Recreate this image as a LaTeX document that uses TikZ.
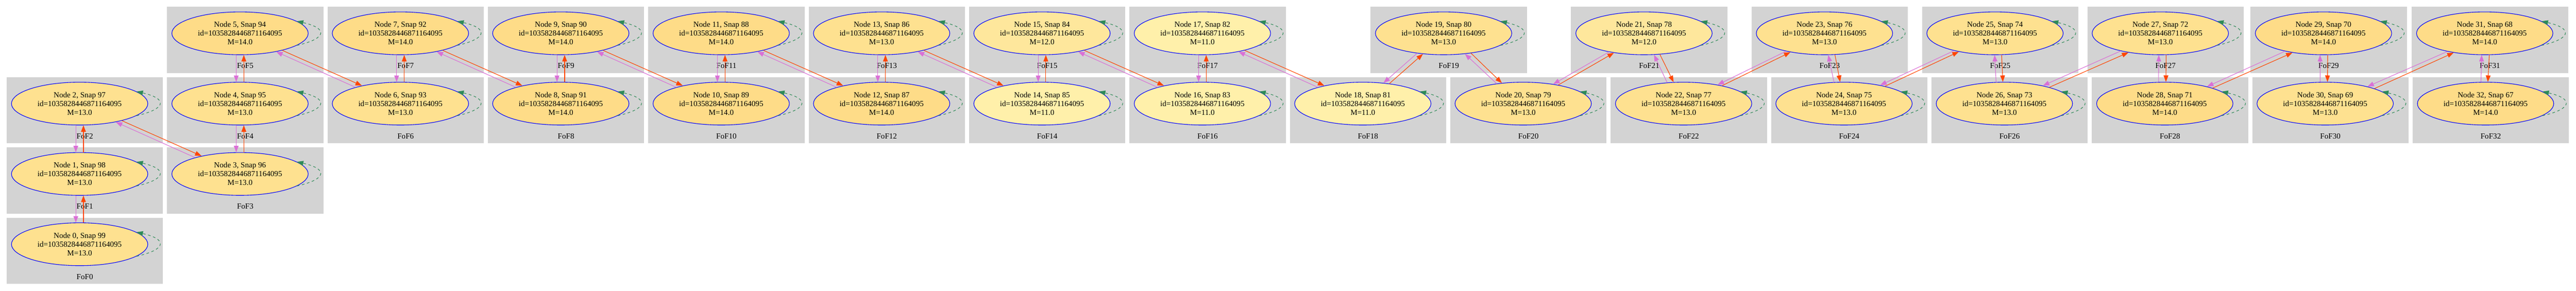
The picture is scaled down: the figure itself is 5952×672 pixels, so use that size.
\documentclass[tikz,border=0pt]{standalone}
\usepackage{fontspec}
\setmainfont{Liberation Serif}
\usetikzlibrary{shapes.geometric, arrows.meta}
\definecolor{boxgray}{HTML}{D3D3D3}
\definecolor{orangered}{HTML}{FF4500}
\definecolor{orchid}{HTML}{DA70D6}
\definecolor{seagreen}{HTML}{2E8B57}
\definecolor{m11}{HTML}{FFF0AA}
\definecolor{m12}{HTML}{FEE79C}
\definecolor{m13}{HTML}{FEE190}
\definecolor{m14}{HTML}{FEDC88}
\newcommand{\fofsize}{\fontsize{9}{10.1}\selectfont}
\tikzstyle{fofbox} = [rectangle, minimum width=180.5pt, minimum height=76.5pt, inner sep=0pt, fill=boxgray]
\tikzstyle{fofname} = [inner sep=0pt, font=\fofsize]
\tikzstyle{halo} = [ellipse, minimum width=157.5pt, minimum height=49.5pt, inner sep=0pt, align=center, draw=blue, line width=0.65pt, font=\fofsize]
\tikzstyle{prog} = [line width=0.65pt, draw=orangered, -{Triangle[length=7.5pt, width=5.5pt, fill=orangered]}]
\tikzstyle{desc} = [line width=0.65pt, draw=orchid, -{Triangle[length=7.5pt, width=5.5pt, fill=orchid]}]
\tikzstyle{selfloop} = [line width=0.65pt, draw=seagreen, dash pattern=on 3pt off 3pt, -{Triangle[length=7.5pt, width=5.5pt, fill=seagreen]}]
\begin{document}
\begin{tikzpicture}[x=0.5pt, y=-0.5pt]
    \useasboundingbox (0,0) rectangle (5952,672);
    \foreach \n/\x/\y/\m in {0/184/564.5/13, 1/184/402/13, 2/184/239.5/13, 3/554.6/402/13,
        4/554.6/239.5/13, 5/554.6/77/14, 6/925.2/239.5/13, 7/925.2/77/14, 8/1295.8/239.5/14,
        9/1295.8/77/14, 10/1666.4/239.5/14, 11/1666.4/77/14, 12/2037/239.5/14, 13/2037/77/13,
        14/2407.6/239.5/11, 15/2407.6/77/12, 16/2778.2/239.5/11, 17/2778.2/77/11,
        18/3148.8/239.5/11, 19/3335.5/77/13, 20/3519.4/239.5/13, 21/3798.5/77/12,
        22/3890/239.5/13, 23/4215.5/77/13, 24/4260.6/239.5/13, 25/4609.5/77/13,
        26/4631.2/239.5/13, 27/4991.5/77/13, 28/5001.8/239.5/14, 29/5368.5/77/14,
        30/5372.4/239.5/13, 31/5741/77/14, 32/5743/239.5/14}{
        \pgfmathtruncatemacro{\snap}{99-\n}
        \node (c\n) [fofbox] at (\x+12,\y+15) {};
        \node (l\n) [fofname] at (\x+12,\y+75) {FoF\n};
        \node (n\n) [halo, fill=m\m] at (\x,\y) {Node \n, Snap \snap\\id=1035828446871164095\\M=\m.0};
        \draw [selfloop] (n\n.-12.5) .. controls +(71,-16) and +(71,16) .. (n\n.12.5);
    }
    \foreach \a/\b/\oa/\ob/\da/\db in {0/1/80/-80/100/-100, 1/2/80/-80/100/-100,
        3/4/80/-80/100/-100, 4/5/80/-80/100/-100, 6/7/80/-80/100/-100, 8/9/80/-80/100/-100,
        10/11/80/-80/100/-100, 12/13/80/-80/100/-100, 14/15/80/-80/100/-100,
        16/17/80/-80/100/-100,
        2/3/-22.5/155.3/-27.7/160.5, 5/6/-22.5/155.3/-27.7/160.5, 7/8/-22.5/155.3/-27.7/160.5,
        9/10/-22.5/155.3/-27.7/160.5, 11/12/-22.5/155.3/-27.7/160.5,
        13/14/-22.5/155.3/-27.7/160.5, 15/16/-22.5/155.3/-27.7/160.5,
        17/18/-22.5/155.3/-27.7/160.5,
        18/19/37.5/-135.9/45.9/-143.6, 19/20/-36.5/136.6/-44.1/143.8,
        20/21/28.8/-147.3/33.9/-152.4, 21/22/-53.5/115.6/-65.3/128.6,
        22/23/25.3/-151.9/29.1/-155.8, 23/24/-64.4/100.9/-80.3/115.2,
        24/25/23.3/-153.3/27.6/-157.1, 25/26/-73.5/94.2/-91.8/111.4,
        26/27/20.2/-149.9/25.5/-156.2, 27/28/-75.3/87.4/-94.8/106.3,
        28/29/18.8/-148.7/22.3/-155.8, 29/30/-79.4/84.6/-99/103.6,
        30/31/17.7/-148.7/22.7/-154.5, 31/32/-78.5/84.3/-98.9/102.5}{
        \draw [prog] (n\a.\oa) -- (n\b.\ob);
        \draw [desc] (n\b.\db) -- (n\a.\da);
    }
\end{tikzpicture}
\end{document}
